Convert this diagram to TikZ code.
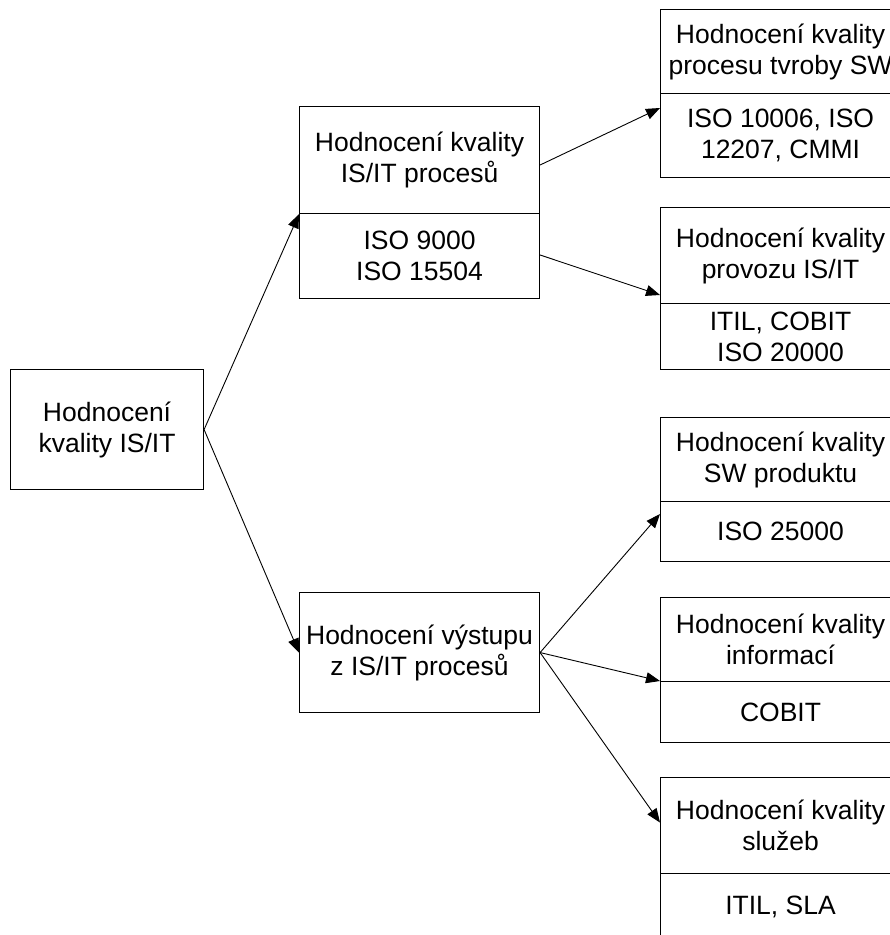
\documentclass[tikz,border=0pt]{standalone}
\usepackage{fontspec}
\setmainfont{Liberation Sans}
\usetikzlibrary{arrows.meta,calc}

\begin{document}
\begin{tikzpicture}[x=1pt,y=-1pt,
  cell/.style={draw=black,line width=1.1pt,rectangle,inner sep=0pt,anchor=north west,
    align=center,font=\fontsize{26.5}{31}\selectfont,minimum width=240pt},
  link/.style={draw=black,line width=0.9pt,-{Triangle[length=14pt,width=11pt]}}]
  \useasboundingbox (0,0) rectangle (890,935);
  \clip (0,0) rectangle (890,935);

  % root
  \node[cell,minimum width=193pt,minimum height=120pt] (root) at (10,369) {Hodnocení\\kvality IS/IT};

  % middle level
  \node[cell,minimum height=107pt] (mtA) at (299,106) {Hodnocení kvality\\IS/IT procesů};
  \node[cell,minimum height=85pt]  (mtB) at (299,213) {ISO 9000\\ISO 15504};
  \node[cell,minimum height=120pt] (mb)  at (299,592) {Hodnocení výstupu\\z IS/IT procesů};

  % right level
  \node[cell,minimum height=84pt] (r1a) at (660,9)   {Hodnocení kvality\\procesu tvroby SW};
  \node[cell,minimum height=84pt] (r1b) at (660,93)  {ISO 10006, ISO\\12207, CMMI};
  \node[cell,minimum height=96pt] (r2a) at (660,207) {Hodnocení kvality\\provozu IS/IT};
  \node[cell,minimum height=66pt] (r2b) at (660,303) {ITIL, COBIT\\ISO 20000};
  \node[cell,minimum height=84pt] (r3a) at (660,417) {Hodnocení kvality\\SW produktu};
  \node[cell,minimum height=60pt] (r3b) at (660,501) {ISO 25000};
  \node[cell,minimum height=84pt] (r4a) at (660,597) {Hodnocení kvality\\informací};
  \node[cell,minimum height=61pt] (r4b) at (660,681) {COBIT};
  \node[cell,minimum height=96pt] (r5a) at (660,777) {Hodnocení kvality\\služeb};
  \node[cell,minimum height=67pt] (r5b) at (660,873) {ITIL, SLA};

  % connectors
  \draw[link] (root.east) -- (mtA.south west);
  \draw[link] (root.east) -- (mb.west);
  \draw[link] ($(mtA.north east)+(0,59)$) -- ($(r1b.north west)+(0,15)$);
  \draw[link] ($(mtB.north east)+(0,42)$) -- ($(r2a.north west)+(0,88)$);
  \draw[link] (mb.east) -- ($(r3b.north west)+(0,13)$);
  \draw[link] (mb.east) -- (r4b.north west);
  \draw[link] (mb.east) -- ($(r5a.west)+(0,-3)$);
\end{tikzpicture}
\end{document}
